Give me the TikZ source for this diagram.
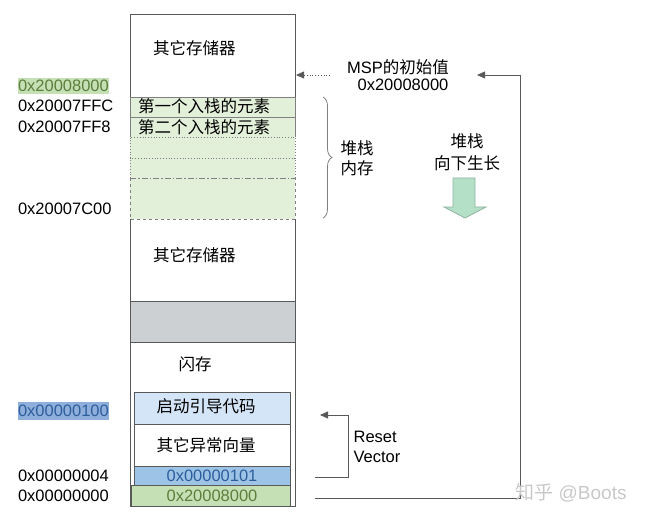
\documentclass[tikz,border=0pt]{standalone}
\usepackage{fontspec}
\setmainfont{Liberation Sans}
\newfontfamily\cjk{Noto Sans CJK SC}
\usetikzlibrary{decorations.pathreplacing, arrows.meta}
\definecolor{lgreen}{HTML}{E2EFD9}
\definecolor{mgreen}{HTML}{C5E0B4}
\definecolor{lblue}{HTML}{D4E5F7}
\definecolor{mblue}{HTML}{9DC3E6}
\definecolor{hblue}{HTML}{8EAEDB}
\definecolor{gbox}{HTML}{CDD0D3}
\definecolor{edge}{HTML}{595959}
\definecolor{sedge}{HTML}{808080}
\definecolor{gtext}{HTML}{5B7F3C}
\definecolor{btext}{HTML}{2F5E9C}
\definecolor{arrfill}{HTML}{B3E0C6}
\definecolor{arredge}{HTML}{8FB3A0}
\definecolor{wm}{HTML}{C8C8C8}
\newcommand\fsz{\fontsize{16.5bp}{20bp}\selectfont}
\begin{document}
\begin{tikzpicture}[x=1bp,y=-1bp,
  every node/.style={inner sep=0pt, outer sep=0pt, font=\fsz},
  cellbox/.style={anchor=north west, minimum width=165bp},
  innerbox/.style={anchor=north west, minimum width=156bp, draw=edge, line width=0.8bp},
  bord/.style={draw=edge, line width=0.8bp},
  sbord/.style={draw=sedge, line width=0.8bp},
  lbl/.style={anchor=west},
  conn/.style={draw=edge, line width=0.8bp},
  tip/.style={-{Triangle[length=8bp,width=7bp]}}]
\useasboundingbox (0,0) rectangle (646,520);
% memory column
\node[cellbox, fill=white, minimum height=83bp] (mtop) at (130,14) {};
\node[cellbox, fill=lgreen, minimum height=20bp] (r1) at (130,97) {};
\node[cellbox, fill=lgreen, minimum height=20bp] (r2) at (130,117) {};
\node[cellbox, fill=lgreen, minimum height=21bp] (r3) at (130,137) {};
\node[cellbox, fill=lgreen, minimum height=20bp] (r4) at (130,158) {};
\node[cellbox, fill=lgreen, minimum height=41bp] (r5) at (130,178) {};
\node[cellbox, fill=white, minimum height=82bp] (mmid) at (130,219) {};
\node[cellbox, fill=gbox, minimum height=41bp] (mgray) at (130,301) {};
\node[cellbox, fill=white, minimum height=164bp] (flash) at (130,342) {};
% borders
\draw[bord] (mtop.south west) rectangle (mtop.north east);
\draw[sbord] (r1.south west) rectangle (r1.north east);
\draw[sbord] (r2.north west) -- (r2.south west) (r2.north east) -- (r2.south east);
\draw[sbord, dotted] (r3.south west) -- (r3.north west) -- (r3.north east) -- (r3.south east);
\draw[sbord, dotted] (r4.south west) -- (r4.north west) -- (r4.north east) -- (r4.south east);
\draw[sbord, dash pattern=on 6bp off 2bp on 1.5bp off 2bp] (r5.north west) -- (r5.north east);
\draw[sbord, dashed] (r5.north west) -- (r5.south west) -- (r5.south east) -- (r5.north east);
\draw[bord] (mmid.north west) -- (mmid.south west) -- (mmid.south east) -- (mmid.north east);
\draw[bord] (mgray.south west) rectangle (mgray.north east);
\draw[bord] (flash.north west) -- (flash.south west) -- (flash.south east) -- (flash.north east);
% inner flash boxes
\node[innerbox, fill=lblue, minimum height=32bp] (boot) at (134,392) {};
\node[innerbox, fill=white, minimum height=42bp] (vecs) at (134,424) {};
\node[innerbox, fill=mblue, minimum height=19bp] (rv) at (134,466) {};
\node[innerbox, fill=mgreen, minimum width=159bp, minimum height=21bp] (sp) at (131,485) {};
% texts in column
\node[lbl] (t1) at (153,48) {\cjk 其它存储器};
\node[lbl] (t2) at (138,106) {\cjk 第一个入栈的元素};
\node[lbl] (t3) at (138,127) {\cjk 第二个入栈的元素};
\node[lbl] (t4) at (153,255) {\cjk 其它存储器};
\node (t5) at (195,364) {\cjk 闪存};
\node (t6) at (206,406) {\cjk 启动引导代码};
\node (t7) at (206,445) {\cjk 其它异常向量};
\node[text=btext] (t8) at (212,476) {0x00000101};
\node[text=gtext] (t9) at (212,496) {0x20008000};
% address labels
\node[lbl, fill=mgreen, text=gtext, inner ysep=2bp] (a1) at (18,86) {0x20008000};
\node[lbl] (a2) at (18,106) {0x20007FFC};
\node[lbl] (a3) at (18,127) {0x20007FF8};
\node[lbl] (a4) at (18,209) {0x20007C00};
\node[lbl, fill=hblue, text=btext, inner ysep=3bp] (a5) at (18,411) {0x00000100};
\node[lbl] (a6) at (18,476) {0x00000004};
\node[lbl] (a7) at (18,496) {0x00000000};
% MSP label
\node (msp) at (398,67) {MSP{\cjk 的初始值}};
\node (mspv) at (403,85) {0x20008000};
\coordinate (mspfrom) at (330,75);
\coordinate (msptip) at (296,75);
\draw[conn, dotted, tip] (mspfrom) -- (msptip);
% long line from initial SP entry
\coordinate (spout) at (315,498);
\coordinate (spcorner) at (520,75);
\coordinate (sptip) at (477,75);
\draw[conn, tip] (spout) -| (spcorner) -- (sptip);
% reset vector
\coordinate (rvout) at (315,477);
\coordinate (rvcorner) at (348,415);
\coordinate (rvtip) at (320,415);
\draw[conn, tip] (rvout) -| (rvcorner) -- (rvtip);
\node[align=left, font=\fsz] (rvl) at (377,447) {Reset\\Vector};
% brace
\coordinate (brtop) at (323,97);
\coordinate (brbot) at (323,218);
\draw[draw=sedge, line width=0.8bp, decorate, decoration={brace, amplitude=9bp}] (brtop) -- (brbot);
\node[align=left] (stk) at (357,158) {\cjk 堆栈\\\cjk 内存};
% grows down
\node[align=center, font=\fontsize{16.5bp}{22bp}\selectfont] (grow) at (467,152) {\cjk 堆栈\\\cjk 向下生长};
\draw[fill=arrfill, draw=arredge, line width=0.8bp] (453,178) -- (475,178) -- (475,207) -- (486,207) -- (465,218) -- (444,207) -- (453,207) -- cycle;
% watermark
\node[text=wm, font=\fontsize{19bp}{22bp}\selectfont] (wmk) at (571,493) {{\cjk 知乎} @Boots};
\end{tikzpicture}
\end{document}
